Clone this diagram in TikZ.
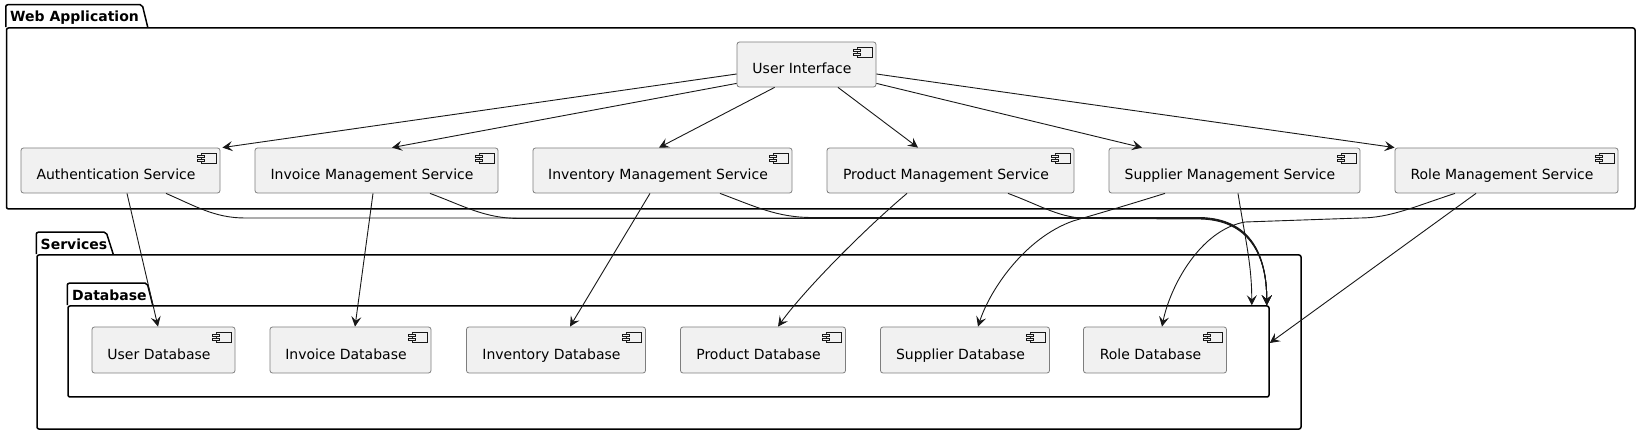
\documentclass[tikz,border=0pt]{standalone}
\usepackage{fontspec}
\setmainfont{DejaVu Sans}
\usetikzlibrary{arrows.meta, calc}
\definecolor{BoxFill}{HTML}{F1F1F1}
\definecolor{BoxLine}{HTML}{7E7E7E}
\definecolor{Wire}{HTML}{181818}

\begin{document}
\begin{tikzpicture}[x=1pt,y=-1pt,font=\fontsize{14}{16}\selectfont,comp/.style={draw=BoxLine,fill=BoxFill,rounded corners=2.5pt,line width=0.8pt,minimum height=45pt,inner sep=0pt,text height=19pt,text depth=0pt,execute at end node={\hspace*{9pt}},path picture={\draw[sharp corners,draw=Wire,line width=0.6pt] ([xshift=-19pt,yshift=-5pt]path picture bounding box.north east) rectangle ++(15pt,-10pt);\draw[sharp corners,draw=Wire,fill=BoxFill,line width=0.6pt] ([xshift=-23pt,yshift=-7pt]path picture bounding box.north east) rectangle ++(7pt,-2.5pt) ([xshift=-23pt,yshift=-11pt]path picture bounding box.north east) rectangle ++(7pt,-2.5pt);}},pkg/.style={draw=black,line width=1.5pt,rounded corners=2pt,inner sep=0pt},tab/.style={draw=black,line width=1.5pt,rounded corners=2pt},pkgname/.style={anchor=base west,inner sep=0pt,font=\fontsize{14}{16}\selectfont\bfseries},arrow/.style={-{Stealth[length=10pt,width=10pt,inset=4pt]},line width=0.9pt,draw=Wire}]
\useasboundingbox[fill=white] (0,0) rectangle (1641,435);
\node[pkg,minimum width=1628.5pt,minimum height=181pt] (web) at (820.75,118.5){};
\draw[tab] (web.north west) -- ++(0,-22.5) -- ++(136.5,0) -- ++(5.5,22.5);
\node[pkgname] (webname) at (10,21.5){Web Application};
\node[pkg,minimum width=1264pt,minimum height=174pt] (services) at (669,342){};
\draw[tab] (services.north west) -- ++(0,-22) -- ++(70,0) -- ++(7,22);
\node[pkgname] (servicesname) at (40.5,250){Services};
\node[pkg,minimum width=1201pt,minimum height=91pt] (dbpkg) at (668.5,351.5){};
\draw[tab] (dbpkg.north west) -- ++(0,-22) -- ++(80,0) -- ++(5.5,22);
\node[pkgname] (dbpkgname) at (72,301){Database};
\node[comp,minimum width=139pt] (ui) at (806.5,64.5){User Interface};
\node[comp,minimum width=199pt] (auth) at (120.5,170.5){Authentication Service};
\node[comp,minimum width=243pt] (invoice) at (376.5,170.5){Invoice Management Service};
\node[comp,minimum width=259pt] (inventory) at (662.5,170.5){Inventory Management Service};
\node[comp,minimum width=247pt] (product) at (950.5,170.5){Product Management Service};
\node[comp,minimum width=251pt] (supplier) at (1234.5,170.5){Supplier Management Service};
\node[comp,minimum width=223pt] (role) at (1506.5,170.5){Role Management Service};
\node[comp,minimum width=143pt,minimum height=46pt] (userdb) at (163.5,350){User Database};
\node[comp,minimum width=161pt,minimum height=46pt] (invoicedb) at (350.5,350){Invoice Database};
\node[comp,minimum width=179pt,minimum height=46pt] (inventorydb) at (556,350){Inventory Database};
\node[comp,minimum width=165pt,minimum height=46pt] (productdb) at (763,350){Product Database};
\node[comp,minimum width=169pt,minimum height=46pt] (supplierdb) at (965,350){Supplier Database};
\node[comp,minimum width=143pt,minimum height=46pt] (roledb) at (1155,350){Role Database};
\coordinate (bus) at (1200,218);
\draw[arrow] ($(ui.west)+(0,9.5)$) -- ($(auth.north east)+(2,0)$);\draw[arrow] ($(ui.south west)+(0,-4)$) -- ($(invoice.north)+(15.5,0)$);\draw[arrow] ($(ui.south west)+(38,0)$) -- ($(inventory.north)+(-3.5,0)$);
\draw[arrow] ($(ui.south)+(31.5,0)$) -- ($(product.north)+(-32.5,0)$);\draw[arrow] ($(ui.south east)+(0,-4)$) -- ($(supplier.north)+(-92.5,0)$);\draw[arrow] ($(ui.east)+(0,9.5)$) -- (role.north west);
\draw[arrow] ($(auth.south)+(6.5,0)$) -- ($(userdb.north)+(-5.5,0)$);\draw[arrow] ($(invoice.south)+(-3.5,0)$) -- ($(invoicedb.north)+(4.5,0)$);\draw[arrow] ($(inventory.south)+(-12.5,0)$) -- ($(inventorydb.north)+(14,0)$);
\draw[arrow] ($(product.south)+(-43.5,0)$) .. controls +(-45,38) and +(25,-35) .. ($(productdb.north)+(15,0)$);
\draw[arrow] ($(auth.south)+(45.5,0)$) .. controls +(30,13) and +(-30,0) .. (245,218) -- (bus) .. controls +(50,1) and +(0,-50) .. ($(dbpkg.north east)+(-3,0)$);
\draw[arrow] ($(invoice.south)+(53.5,0)$) .. controls +(35,13) and +(-35,0) .. (520,218.5) -- ($(bus)+(0,0.5)$) .. controls +(50,1) and +(0,-50) .. ($(dbpkg.north east)+(-3,0)$);
\draw[arrow] ($(inventory.south)+(57.5,0)$) .. controls +(35,13) and +(-35,0) .. (812,217.5) -- ($(bus)+(0,-0.5)$) .. controls +(51,1) and +(0,-50) .. ($(dbpkg.north east)+(-3,0)$);
\draw[arrow] ($(product.south)+(57.5,0)$) .. controls +(35,13) and +(-30,0) .. (1090,218.5) -- ($(bus)+(0,1)$) .. controls +(49,1) and +(0,-50) .. ($(dbpkg.north east)+(-3,0)$);
\draw[arrow] ($(supplier.south)+(-69.5,0)$) .. controls +(-55,17) and +(17,-5) .. (1073,221) .. controls +(-48,17) and +(12,-37) .. ($(supplierdb.north)+(13,0)$);
\draw[arrow] ($(supplier.south)+(3.5,0)$) .. controls +(8,50) and +(0,-40) .. ($(dbpkg.north east)+(-18,0)$);
\draw[arrow] ($(role.south)+(-51.5,0)$) .. controls +(-40,13) and +(30,0) .. (1360,218) -- (1245,222) .. controls +(-45,8) and +(8,-40) .. ($(roledb.north)+(7,0)$);
\draw[arrow] ($(role.south)+(-30.5,0)$) -- ($(dbpkg.east)+(0,-8.5)$);
\end{tikzpicture}
\end{document}
